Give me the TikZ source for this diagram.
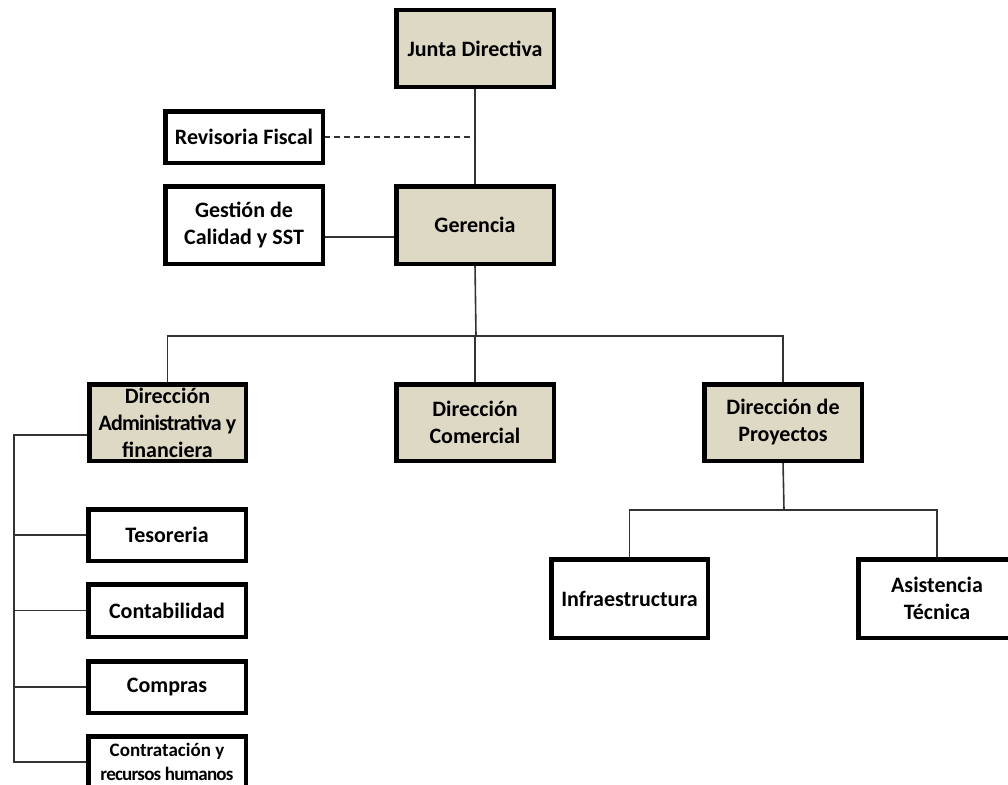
\documentclass[tikz,border=0pt]{standalone}
\usepackage{fontspec}
\setmainfont{Carlito}
\definecolor{boxtan}{HTML}{DDD9C4}
\definecolor{linegray}{HTML}{333333}
\newcommand{\tightline}[1]{{\addfontfeature{LetterSpace=-4}#1}}
\begin{document}
\begin{tikzpicture}[x=1pt,y=-1pt,
  unit/.style={draw=black,line width=3pt,fill=white,minimum width=156pt,
    inner sep=0pt,align=center,text=black,
    font=\bfseries\fontsize{22}{27}\selectfont},
  head/.style={unit,fill=boxtan},
  small/.style={font=\bfseries\fontsize{19}{24}\selectfont},
  link/.style={draw=linegray,line width=1.6pt},
  advisory/.style={link,dash pattern=on 6pt off 4pt}]
\useasboundingbox (0,0) rectangle (1008,784);
\clip (0,0) rectangle (1008,784);

% top level
\node[head,minimum height=75pt] (junta) at (475,48.5) {Junta Directiva};
\node[head,minimum height=76pt] (geren) at (475,225) {Gerencia};
\node[unit,minimum height=50pt] (revis) at (244,137) {Revisoria Fiscal};
\node[unit,minimum height=76pt] (gesti) at (244,225) {Gestión de\\Calidad y SST};

% directions
\node[head,minimum width=155pt,minimum height=75pt] (dadm) at (167.5,422.5)
  {Dirección\\\tightline{Administrativa y}\\financiera};
\node[head,minimum height=75pt] (dcom) at (475,422.5) {Dirección\\Comercial};
\node[head,minimum height=75pt] (dpro) at (783,422.5) {Dirección de\\Proyectos};

% projects area
\node[unit,minimum width=155pt,minimum height=77pt] (infra) at (629.5,598.5) {Infraestructura};
\node[unit,minimum height=77pt] (asist) at (937,598.5) {Asistencia\\Técnica};

% administrative area
\node[unit,minimum height=50pt] (teso) at (167,535) {Tesoreria};
\node[unit,minimum height=51pt] (conta) at (167,610.5) {Contabilidad};
\node[unit,minimum height=50pt] (compr) at (167,687) {Compras};
\node[unit,small,minimum height=50pt] (contr) at (167,762)
  {Contratación y\\\tightline{recursos humanos}};

% junction points
\coordinate (jspine) at (476,137);
\coordinate (bus) at (476,336);
\coordinate (pbus) at (784,510);
\coordinate (aspine) at (14,435);

% connectors
\draw[link] (junta.south) -- (geren.north);
\draw[advisory] (revis.east) -- (jspine);
\draw[link] ([yshift=-12pt]gesti.east) -- ([yshift=-12pt]geren.west);
\draw[link] (geren.south) -- (bus);
\draw[link] (dadm.north) |- (bus) -| (dpro.north);
\draw[link] (dcom.north) -- (dcom.north |- bus);
\draw[link] (dpro.south) -- (pbus);
\draw[link] (infra.north) |- (pbus) -| (asist.north);
\draw[link] ([yshift=-12.5pt]dadm.west) -- (aspine) |- (contr.west);
\draw[link] (aspine |- teso.west) -- (teso.west);
\draw[link] (aspine |- conta.west) -- (conta.west);
\draw[link] (aspine |- compr.west) -- (compr.west);

% redraw box outlines above the connectors
\foreach \n in {junta,geren,revis,gesti,dadm,dcom,dpro,infra,asist,teso,conta,compr,contr}
  \draw[line width=3pt] (\n.north west) rectangle (\n.south east);
\end{tikzpicture}
\end{document}
